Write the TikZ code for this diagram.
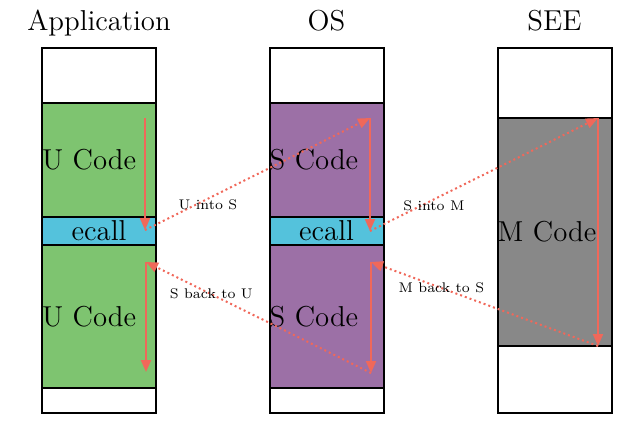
\documentclass[tikz,border=0pt]{standalone}
\usetikzlibrary{arrows.meta, calc}
\definecolor{appgreen}{RGB}{126,196,112}
\definecolor{ospurple}{RGB}{156,112,166}
\definecolor{ecallblue}{RGB}{84,194,220}
\definecolor{seegray}{RGB}{136,136,136}
\definecolor{arrowred}{RGB}{240,104,90}
\tikzstyle{block} = [draw=black, line width=1pt, outer sep=0, inner sep=0,
    minimum width=57pt, text width=57pt, align=left, font=\Large]
\tikzstyle{ecallbox} = [block, fill=ecallblue, align=center, minimum height=14pt]
\tikzstyle{title} = [font=\Large, anchor=base]
\tikzstyle{flow} = [draw=arrowred, line width=1pt, -{Triangle[length=6pt,width=5pt]}]
\tikzstyle{jump} = [flow, dash pattern=on 1pt off 1.5pt]
\tikzstyle{lbl} = [font=\scriptsize, text=black]

\begin{document}
\begin{tikzpicture}[x=0.5pt, y=-0.5pt]
\useasboundingbox (0,0) rectangle (642,447);

%%% titles
\node[title] (tapp) at (99,30) {Application};
\node[title] (tos) at (326.5,30) {OS};
\node[title] (tsee) at (554.5,30) {SEE};

%%% application
\node[block, minimum height=27.5pt] (apptop) at (99,75.5) {};
\node[block, fill=appgreen, minimum height=57pt] (ucode1) at (99,160) {U Code};
\node[ecallbox] (ecall1) at (99,231) {ecall};
\node[block, fill=appgreen, minimum height=71.5pt] (ucode2) at (99,316.5) {U Code};
\node[block, minimum height=12.5pt] (appbot) at (99,400.5) {};

%%% os
\node[block, minimum height=27.5pt] (ostop) at (326.5,75.5) {};
\node[block, fill=ospurple, minimum height=57pt] (scode1) at (326.5,160) {S Code};
\node[ecallbox] (ecall2) at (326.5,231) {ecall};
\node[block, fill=ospurple, minimum height=71.5pt] (scode2) at (326.5,316.5) {S Code};
\node[block, minimum height=12.5pt] (osbot) at (326.5,400.5) {};

%%% see
\node[block, minimum height=35pt] (seetop) at (554.5,83) {};
\node[block, fill=seegray, minimum height=114pt] (mcode) at (554.5,232) {M Code};
\node[block, minimum height=33.5pt] (seebot) at (554.5,379.5) {};

%%% flow
\coordinate (a1) at (145,118);
\coordinate (a2) at (145,230);
\coordinate (a3) at (146,262);
\coordinate (a4) at (146,372);
\coordinate (o1) at (370,118);
\coordinate (o2) at (370,231);
\coordinate (o3) at (371,262);
\coordinate (o4) at (371,373);
\coordinate (m1) at (598,118);
\coordinate (m2) at (598,346);

\draw[flow] (a1) -- (a2);
\draw[jump] (a2) -- node[lbl, pos=0.28, yshift=-3pt] {U into S} (o1);
\draw[flow] (o1) -- (o2);
\draw[jump] (o2) -- node[lbl, pos=0.28, yshift=-3pt] {S into M} (m1);
\draw[flow] (m1) -- (m2);
\draw[jump] (m2) -- node[lbl, pos=0.69] {M back to S} (o3);
\draw[flow] (o3) -- (o4);
\draw[jump] (o4) -- node[lbl, pos=0.71] {S back to U} (a3);
\draw[flow] (a3) -- (a4);

\end{tikzpicture}
\end{document}
